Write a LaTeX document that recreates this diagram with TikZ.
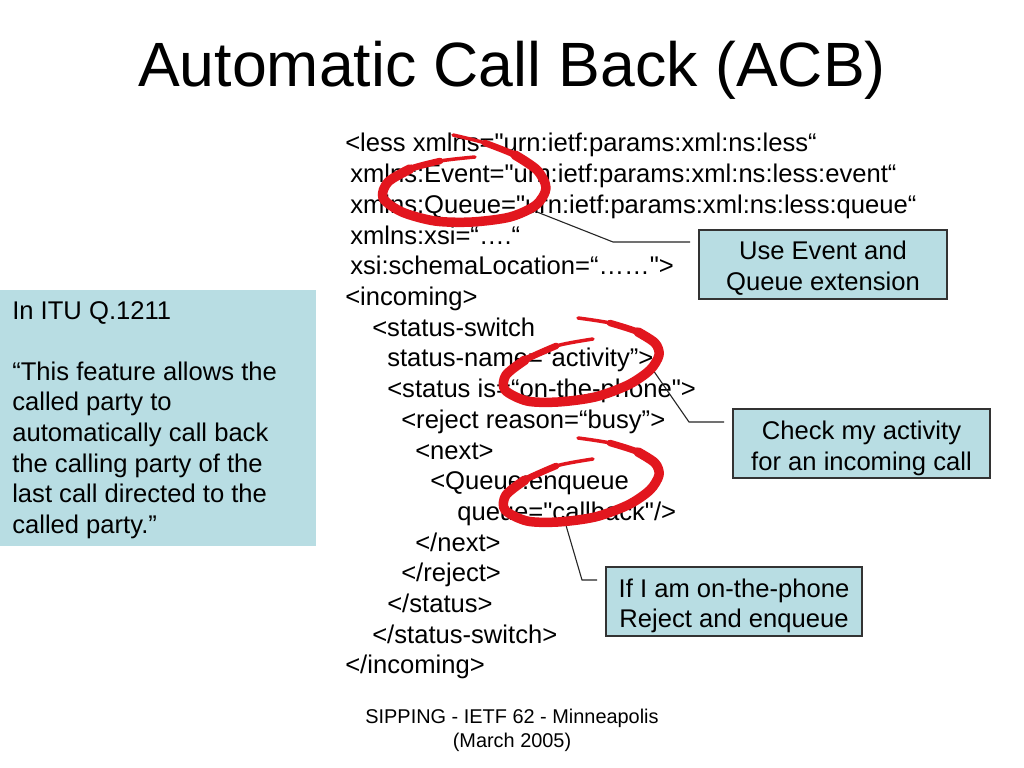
\documentclass[tikz,border=0pt]{standalone}
\usepackage{fontspec}
\setmainfont{Liberation Sans}[Ligatures=TeXOff]
\newlength\pxu
\setlength\pxu{0.703125pt}
\definecolor{boxblue}{RGB}{184,221,227}
\definecolor{penred}{RGB}{226,22,30}
\tikzset{
  code/.style={anchor=base west, inner sep=0pt, font=\fontsize{18}{21.6}\selectfont},
  lefttext/.style={anchor=base west, inner sep=0pt, font=\fontsize{18}{21.6}\selectfont},
  callout/.style={draw=black!80, line width=1.3\pxu, fill=boxblue, inner sep=0pt},
  callouttext/.style={anchor=base, inner sep=0pt, font=\fontsize{18}{21.6}\selectfont},
  leader/.style={draw=black!85, line width=1.1\pxu},
  loopthin/.style={draw=penred, line width=3.5\pxu, line cap=round, line join=round},
  loopmid/.style={draw=penred, line width=6.5\pxu, line cap=round, line join=round},
  loopthick/.style={draw=penred, line width=9.5\pxu, line cap=round, line join=round},
}
\newcommand\acbloop{%
  \draw[loopthin] plot[smooth] coordinates {(578,318) (610,323) (638,332) (655,343) (659,355) (650,370) (628,385) (595,397) (558,402) (527,401) (505,390) (506,375) (525,360) (556,346) (593,339)};
  \draw[loopmid] plot[smooth] coordinates {(610,323) (638,332) (655,343) (659,355) (650,370) (628,385) (595,397) (558,402) (527,401) (505,390) (506,375) (525,360) (556,346)};
  \draw[loopthick] plot[smooth] coordinates {(638,332) (655,343) (659,355) (650,370) (628,385) (595,397) (558,402) (527,401) (505,390) (506,375) (525,360)};
}
\begin{document}
\begin{tikzpicture}[x=0.703125pt, y=-0.703125pt]
\useasboundingbox (0,0) rectangle (1024,768);
\fill[white] (0,0) rectangle (1024,768);

% title
\node[anchor=base, inner sep=0pt, font=\fontsize{44}{52}\selectfont] (title) at (512,87) {Automatic Call Back (ACB)};

% left box
\node[fill=boxblue, anchor=north west, inner sep=0pt, minimum width=316\pxu, minimum height=256\pxu] (leftbox) at (0,290) {};
\node[lefttext] (t1) at (12,320) {In ITU Q.1211};
\node[lefttext] (t2) at (12,380) {“This feature allows the};
\node[lefttext] (t3) at (12,410.7) {called party to};
\node[lefttext] (t4) at (12,441.4) {automatically call back};
\node[lefttext] (t5) at (12,472.1) {the calling party of the};
\node[lefttext] (t6) at (12,502.8) {last call directed to the};
\node[lefttext] (t7) at (12,533.5) {called party.”};

% code
\node[code] (l1) at (345,152) {<less xmlns="urn:ietf:params:xml:ns:less“};
\node[code] (l2) at (350,182.7) {xmlns:Event="urn:ietf:params:xml:ns:less:event“};
\node[code] (l3) at (350,213.4) {xmlns:Queue="urn:ietf:params:xml:ns:less:queue“};
\node[code] (l4) at (350,244.1) {xmlns:xsi=“….“};
\node[code] (l5) at (350,274.8) {xsi:schemaLocation=“……">};
\node[code] (l6) at (345,305.5) {<incoming>};
\node[code] (l7) at (372,336.2) {<status-switch};
\node[code] (l8) at (387,366.9) {status-name=“activity”>};
\node[code] (l9) at (387,397.6) {<status is=“on-the-phone">};
\node[code] (l10) at (401,428.3) {<reject reason=“busy”>};
\node[code] (l11) at (415,459) {<next>};
\node[code] (l12) at (430,489.7) {<Queue:enqueue};
\node[code] (l13) at (457,520.4) {queue="callback"/>};
\node[code] (l14) at (415,551.1) {</next>};
\node[code] (l15) at (401,581.8) {</reject>};
\node[code] (l16) at (387,612.5) {</status>};
\node[code] (l17) at (372,643.2) {</status-switch>};
\node[code] (l18) at (345,673.9) {</incoming>};

% callout boxes
\node[callout, minimum width=248\pxu, minimum height=69\pxu] (box1) at (823,264.5) {};
\node[callouttext] (box1a) at (823,260) {Use Event and};
\node[callouttext] (box1b) at (823,290.7) {Queue extension};
\node[callout, minimum width=257\pxu, minimum height=69\pxu] (box2) at (861.5,443.5) {};
\node[callouttext] (box2a) at (861.5,439.5) {Check my activity};
\node[callouttext] (box2b) at (861.5,470.2) {for an incoming call};
\node[callout, minimum width=256\pxu, minimum height=69\pxu] (box3) at (734,601.5) {};
\node[callouttext] (box3a) at (734,597) {If I am on-the-phone};
\node[callouttext] (box3b) at (734,627.7) {Reject and enqueue};

% leader lines
\coordinate (a1) at (537,212);
\coordinate (b1) at (613,242);
\coordinate (e1) at (690,242);
\coordinate (a2) at (653,370);
\coordinate (b2) at (689,422);
\coordinate (e2) at (724,422);
\coordinate (a3) at (565,522);
\coordinate (b3) at (582,580);
\coordinate (e3) at (597,580);
\draw[leader] (a1) -- (b1) -- (e1);
\draw[leader] (a2) -- (b2) -- (e2);
\draw[leader] (a3) -- (b3) -- (e3);

% red hand-drawn loops
\draw[loopthin] plot[smooth] coordinates {(453,135) (485,143) (515,155) (537,170) (546,188) (536,205) (510,217) (472,222) (435,221) (402,212) (383,198) (388,182) (410,169) (440,161) (475,157)};
\draw[loopmid] plot[smooth] coordinates {(485,143) (515,155) (537,170) (546,188) (536,205) (510,217) (472,222) (435,221) (402,212) (383,198) (388,182) (410,169) (440,161)};
\draw[loopthick] plot[smooth] coordinates {(515,155) (537,170) (546,188) (536,205) (510,217) (472,222) (435,221) (402,212) (383,198) (388,182) (410,169)};
\acbloop
\begin{scope}[shift={(0,120)}]
\acbloop
\end{scope}

% footer
\node[anchor=base, inner sep=0pt, font=\fontsize{14}{16.8}\selectfont] (foot1) at (512,723) {SIPPING - IETF 62 - Minneapolis};
\node[anchor=base, inner sep=0pt, font=\fontsize{14}{16.8}\selectfont] (foot2) at (512,747) {(March 2005)};
\end{tikzpicture}
\end{document}
